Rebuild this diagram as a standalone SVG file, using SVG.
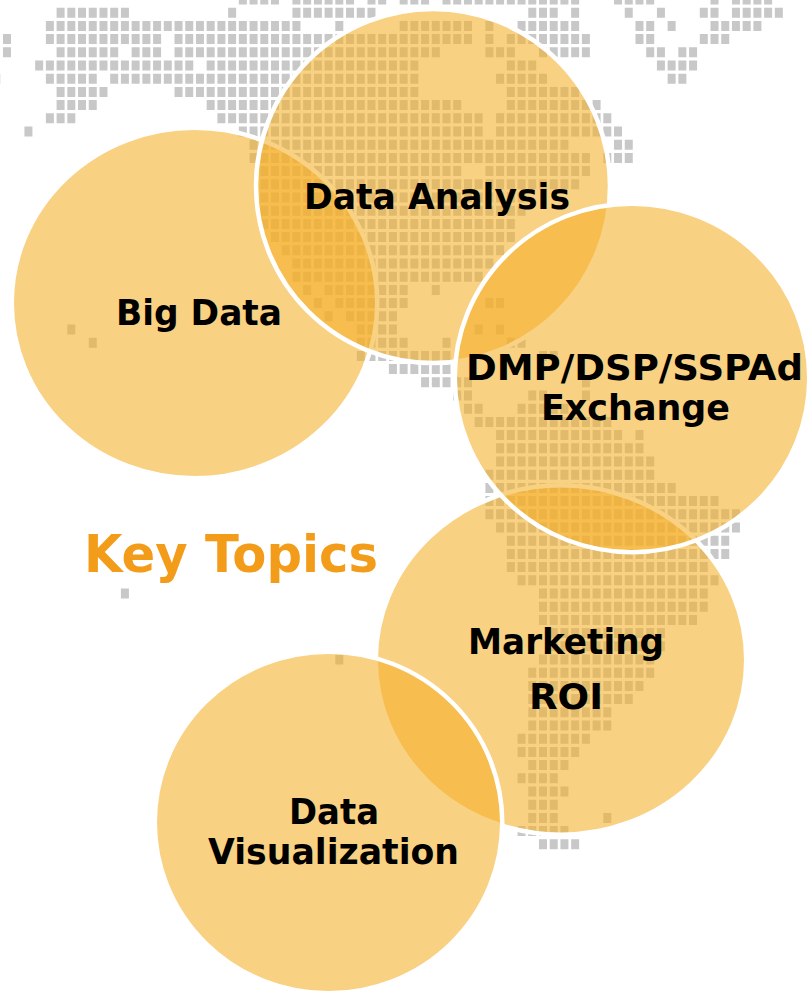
<svg xmlns="http://www.w3.org/2000/svg" width="810" height="991" viewBox="0 0 810 991">
<style>
.c{fill:#F5B029;fill-opacity:.58;stroke:#fff;stroke-width:4.5}
.t{font-family:"DejaVu Sans","Liberation Sans",sans-serif;font-weight:700;font-size:36px;fill:#000;text-anchor:middle}
.m{fill:none;stroke:#c8c8c8;stroke-width:.758;stroke-dasharray:.746 .254}
</style>
<defs>
<filter id="b" x="-2%" y="-2%" width="104%" height="104%"><feGaussianBlur stdDeviation=".5"/></filter>
</defs>
<rect width="810" height="991" fill="#fff"/>
<g id="map" filter="url(#b)"><g transform="translate(3,-.5) scale(10.72,13.2)">
<path class="m" d="
M22 0h4M27 0h6M34 0h2M37 0h3M41 0h13M57 0h4M66 0h1M68 0h4
M5 1h7M21 1h1M27 1h8M49 1h3M53 1h1M58 1h1M61 1h1M65 1h2M68 1h5
M4 2h24M31 2h1M37 2h7M45 2h1M48 2h6M59 2h2M62 2h1M66 2h5
M0 3h1M4 3h11M16 3h28M45 3h1M47 3h8M59 3h2M65 3h3
M0 4h1M5 4h6M12 4h3M16 4h25M45 4h3M50 4h5M60 4h2M63 4h2
M3 5h15M19 5h20M47 5h3M61 5h4
M-1 6h1M4 6h5M10 6h29M46 6h5M62 6h2
M5 7h5M16 7h23M47 7h7
M5 8h4M19 8h24M47 8h9
M4 9h3M20 9h25M46 9h11
M2 10h1M22 10h23M46 10h12
M23 11h30M57 11h2
M23 12h32M56 12h3
M24 13h19M45 13h10
M24 14h30
M24 15h25
M24 16h25
M24 17h24
M25 18h23
M26 19h21
M27 20h19
M27 21h18
M28 22h1M30 22h8M40 22h1
M29 23h1M31 23h7M45 23h2
M30 24h1M32 24h5
M6 25h1M33 25h4M44 25h1M46 25h1
M8 26h1M33 26h5M41 26h1M47 26h2
M33 27h9M50 27h2
M36 28h6
M39 29h5M54 29h1
M42 30h2M49 30h2M54 30h1
M43 31h2M48 31h5
M44 32h13
M46 33h12M59 33h1
M46 34h14
M46 35h15
M45 36h16
M45 37h18
M45 38h22
M45 39h24
M46 40h23
M47 41h21
M47 42h21
M47 43h19
M48 44h19
M11 45h1M50 45h16
M50 46h16
M50 47h15
M51 48h11
M51 49h11
M31 50h1M50 50h11
M49 51h12
M49 52h11
M49 53h10
M49 54h8
M49 55h8
M48 56h7
M48 57h6
M49 58h4
M48 59h4
M49 60h4
M49 61h3
M49 62h3M56 62h1
M48 63h5
M50 64h4"/>
</g></g>
<g id="big-data"><ellipse class="c" cx="194.5" cy="303" rx="182.75" ry="175.25"/></g>
<g id="data-analysis"><ellipse class="c" cx="433" cy="186" rx="177" ry="177"/></g>
<g id="marketing-roi"><ellipse class="c" cx="561" cy="660" rx="185.25" ry="174.75"/></g>
<g id="dmp"><ellipse class="c" cx="632" cy="378" rx="177.25" ry="174.25"/></g>
<g id="data-visualization"><ellipse class="c" cx="328.5" cy="822.5" rx="173.75" ry="170.75"/></g>
<g id="labels">
<text class="t" x="199" y="325" textLength="166" lengthAdjust="spacingAndGlyphs">Big Data</text>
<text class="t" x="437" y="208.5" textLength="266" lengthAdjust="spacingAndGlyphs">Data Analysis</text>
<text class="t" x="634.5" y="379.5" textLength="337" lengthAdjust="spacingAndGlyphs">DMP/DSP/SSPAd</text>
<text class="t" x="635.5" y="419.5" textLength="189" lengthAdjust="spacingAndGlyphs">Exchange</text>
<text class="t" x="566" y="654" textLength="196" lengthAdjust="spacingAndGlyphs">Marketing</text>
<text class="t" x="566" y="708.5" textLength="74" lengthAdjust="spacingAndGlyphs">ROI</text>
<text class="t" x="334" y="823.5" textLength="90" lengthAdjust="spacingAndGlyphs">Data</text>
<text class="t" x="333.5" y="863.5" textLength="251" lengthAdjust="spacingAndGlyphs">Visualization</text>
<text x="231" y="571.5" textLength="294" lengthAdjust="spacingAndGlyphs" style="font-family:'DejaVu Sans','Liberation Sans',sans-serif;font-weight:700;font-size:52px;fill:#F39C1A;text-anchor:middle">Key Topics</text>
</g>
</svg>
